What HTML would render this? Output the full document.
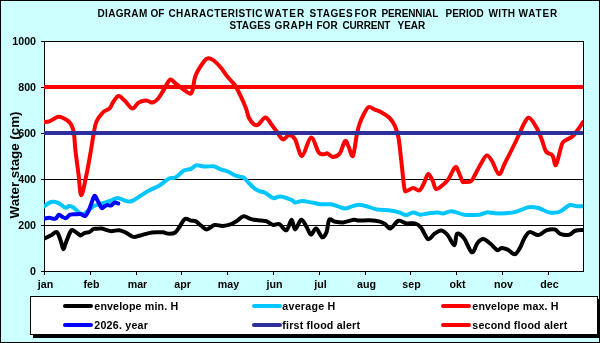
<!DOCTYPE html>
<html><head><meta charset="utf-8">
<style>
html,body{margin:0;padding:0;width:600px;height:343px;overflow:hidden;background:#CCFFFF;}
svg{display:block;will-change:transform;}
text{font-family:"Liberation Sans", sans-serif;font-weight:bold;fill:#000;}
</style></head><body>
<svg width="600" height="343" viewBox="0 0 600 343">
<rect x="0.5" y="0.5" width="599" height="342" fill="#CCFFFF" stroke="#000" stroke-width="1"/>
<text x="97.50" y="17.00" style="font-size:10.00px" textLength="49.77" lengthAdjust="spacing">DIAGRAM</text>
<text x="150.50" y="17.00" style="font-size:10.00px" textLength="13.89" lengthAdjust="spacing">OF</text>
<text x="168.50" y="17.00" style="font-size:10.00px" textLength="93.89" lengthAdjust="spacing">CHARACTERISTIC</text>
<text x="264.50" y="17.00" style="font-size:10.00px" textLength="39.66" lengthAdjust="spacing">WATER</text>
<text x="309.50" y="17.00" style="font-size:10.00px" textLength="43.12" lengthAdjust="spacing">STAGES</text>
<text x="354.50" y="17.00" style="font-size:10.00px" textLength="22.11" lengthAdjust="spacing">FOR</text>
<text x="381.50" y="17.00" style="font-size:10.00px" textLength="56.78" lengthAdjust="spacing">PERENNIAL</text>
<text x="445.50" y="17.00" style="font-size:10.00px" textLength="38.34" lengthAdjust="spacing">PERIOD</text>
<text x="488.50" y="17.00" style="font-size:10.00px" textLength="26.55" lengthAdjust="spacing">WITH</text>
<text x="518.50" y="17.00" style="font-size:10.00px" textLength="38.66" lengthAdjust="spacing">WATER</text>
<text x="229.50" y="29.00" style="font-size:10.00px" textLength="41.12" lengthAdjust="spacing">STAGES</text>
<text x="274.50" y="29.00" style="font-size:10.00px" textLength="38.11" lengthAdjust="spacing">GRAPH</text>
<text x="316.50" y="29.00" style="font-size:10.00px" textLength="21.11" lengthAdjust="spacing">FOR</text>
<text x="342.50" y="29.00" style="font-size:10.00px" textLength="47.89" lengthAdjust="spacing">CURRENT</text>
<text x="397.50" y="29.00" style="font-size:10.00px" textLength="27.78" lengthAdjust="spacing">YEAR</text>
<rect x="44" y="41" width="540" height="231" fill="#fff" stroke="none"/>
<rect x="44.5" y="41.5" width="539" height="230" fill="none" stroke="#000" stroke-width="1"/>
<line x1="44" y1="225.5" x2="583" y2="225.5" stroke="#000" stroke-width="1"/>
<line x1="44" y1="179.5" x2="583" y2="179.5" stroke="#000" stroke-width="1"/>
<clipPath id="c"><rect x="44" y="30" width="539" height="260"/></clipPath>
<g clip-path="url(#c)" fill="none" stroke-linejoin="round" stroke-linecap="round">
<path d="M44.00 238.80 C45.17 238.22 48.88 236.42 51.00 235.30 C53.12 234.18 55.15 231.23 56.75 232.10 C58.35 232.97 59.51 237.67 60.60 240.50 C61.69 243.33 62.42 248.77 63.30 249.10 C64.18 249.43 64.74 245.35 65.90 242.50 C67.06 239.65 69.15 234.08 70.25 232.00 C71.35 229.92 71.19 229.71 72.50 230.00 C73.81 230.29 76.77 232.83 78.10 233.75 C79.43 234.67 79.35 235.64 80.50 235.50 C81.65 235.36 83.50 233.48 85.00 232.90 C86.50 232.32 88.08 232.65 89.50 232.00 C90.92 231.35 92.33 229.53 93.50 229.00 C94.67 228.47 95.12 228.93 96.50 228.85 C97.88 228.77 99.42 228.12 101.75 228.50 C104.08 228.88 107.58 230.81 110.50 231.10 C113.42 231.39 116.62 229.95 119.25 230.25 C121.88 230.55 123.92 231.79 126.25 232.90 C128.58 234.01 130.92 236.47 133.25 236.90 C135.58 237.33 137.62 236.13 140.25 235.50 C142.88 234.87 146.38 233.62 149.00 233.10 C151.62 232.57 153.67 232.47 156.00 232.35 C158.33 232.22 160.82 232.12 163.00 232.35 C165.18 232.58 167.06 233.72 169.10 233.75 C171.14 233.78 173.50 233.67 175.25 232.50 C177.00 231.33 177.99 229.02 179.60 226.75 C181.21 224.48 183.00 219.93 184.90 218.90 C186.80 217.88 189.25 220.22 191.00 220.60 C192.75 220.97 193.65 220.27 195.40 221.15 C197.15 222.03 199.61 224.53 201.50 225.90 C203.39 227.28 204.57 229.55 206.75 229.40 C208.93 229.25 211.97 225.58 214.60 225.00 C217.22 224.42 219.72 226.05 222.50 225.90 C225.28 225.75 228.77 224.98 231.25 224.10 C233.73 223.22 235.36 221.91 237.40 220.60 C239.44 219.29 241.32 216.53 243.50 216.25 C245.68 215.97 248.75 218.32 250.50 218.90 C252.25 219.48 252.25 219.47 254.00 219.75 C255.75 220.03 258.96 220.37 261.00 220.60 C263.04 220.83 264.21 220.42 266.25 221.15 C268.29 221.88 271.06 224.51 273.25 225.00 C275.44 225.49 277.21 223.22 279.40 224.10 C281.59 224.97 284.37 230.97 286.40 230.25 C288.43 229.53 290.15 219.89 291.60 219.75 C293.05 219.61 293.49 229.40 295.10 229.40 C296.71 229.40 299.35 220.19 301.25 219.75 C303.15 219.31 304.89 224.28 306.50 226.75 C308.11 229.22 309.30 234.31 310.90 234.60 C312.50 234.89 314.21 228.06 316.10 228.50 C317.99 228.94 320.50 236.67 322.25 237.25 C324.00 237.83 325.43 234.92 326.60 232.00 C327.77 229.08 327.93 221.50 329.25 219.75 C330.57 218.00 332.17 221.06 334.50 221.50 C336.83 221.94 340.04 222.69 343.25 222.40 C346.46 222.11 351.12 220.05 353.75 219.75 C356.38 219.45 356.38 220.52 359.00 220.60 C361.62 220.68 366.00 220.08 369.50 220.25 C373.00 220.42 377.38 220.93 380.00 221.60 C382.62 222.27 383.50 223.10 385.25 224.25 C387.00 225.40 388.31 229.08 390.50 228.50 C392.69 227.92 395.77 221.60 398.40 220.75 C401.02 219.90 403.48 222.96 406.25 223.40 C409.02 223.84 412.52 222.68 415.00 223.40 C417.48 224.12 418.92 225.13 421.10 227.75 C423.28 230.37 425.91 238.07 428.10 239.10 C430.29 240.12 432.06 235.35 434.25 233.90 C436.44 232.45 439.06 230.26 441.25 230.40 C443.44 230.54 445.21 232.28 447.40 234.75 C449.59 237.22 452.80 245.39 454.40 245.25 C456.00 245.11 455.40 235.07 457.00 233.90 C458.60 232.73 461.52 235.19 464.00 238.25 C466.48 241.31 469.65 251.46 471.90 252.25 C474.15 253.04 475.61 245.19 477.50 243.00 C479.39 240.81 481.12 239.02 483.25 239.10 C485.38 239.18 487.92 241.66 490.25 243.50 C492.58 245.34 495.36 249.42 497.25 250.15 C499.14 250.88 499.85 247.99 501.60 247.90 C503.35 247.81 505.56 248.53 507.75 249.60 C509.94 250.67 512.71 254.63 514.75 254.35 C516.79 254.07 518.39 250.58 520.00 247.90 C521.61 245.22 522.80 240.88 524.40 238.25 C526.00 235.62 527.27 232.62 529.60 232.10 C531.93 231.57 535.62 235.38 538.40 235.10 C541.17 234.82 543.48 231.33 546.25 230.40 C549.02 229.47 552.67 228.92 555.00 229.50 C557.33 230.08 557.92 233.03 560.25 233.90 C562.58 234.78 566.50 235.28 569.00 234.75 C571.50 234.22 572.92 231.56 575.25 230.75 C577.58 229.94 581.71 230.04 583.00 229.90" stroke="#000" stroke-width="4"/>
<path d="M44.00 206.50 C45.17 205.75 48.67 202.62 51.00 202.00 C53.33 201.38 55.60 201.85 58.00 202.80 C60.40 203.75 63.60 207.17 65.40 207.70 C67.20 208.23 67.50 206.07 68.80 206.00 C70.10 205.93 71.45 206.17 73.20 207.30 C74.95 208.43 77.60 211.63 79.30 212.80 C81.00 213.97 81.70 214.89 83.40 214.30 C85.10 213.71 87.61 210.68 89.50 209.25 C91.39 207.82 92.42 206.79 94.75 205.75 C97.08 204.71 100.96 203.79 103.50 203.00 C106.04 202.21 107.67 201.83 110.00 201.00 C112.33 200.17 115.08 198.08 117.50 198.00 C119.92 197.92 122.17 199.96 124.50 200.50 C126.83 201.04 128.88 202.00 131.50 201.25 C134.12 200.50 137.33 197.79 140.25 196.00 C143.17 194.21 145.79 192.25 149.00 190.50 C152.21 188.75 156.15 187.50 159.50 185.50 C162.85 183.50 166.47 179.82 169.10 178.50 C171.72 177.18 172.77 178.92 175.25 177.60 C177.73 176.28 181.38 172.05 184.00 170.60 C186.62 169.15 188.96 169.77 191.00 168.90 C193.04 168.03 193.92 165.78 196.25 165.40 C198.58 165.02 202.08 166.46 205.00 166.60 C207.92 166.74 211.12 165.78 213.75 166.25 C216.38 166.72 218.42 168.53 220.75 169.40 C223.08 170.28 225.12 170.42 227.75 171.50 C230.38 172.58 233.88 174.88 236.50 175.90 C239.12 176.92 241.46 176.43 243.50 177.60 C245.54 178.77 247.00 181.17 248.75 182.90 C250.50 184.63 252.25 186.63 254.00 188.00 C255.75 189.37 257.35 190.28 259.25 191.10 C261.15 191.92 263.07 191.73 265.40 192.90 C267.73 194.07 270.77 197.52 273.25 198.10 C275.73 198.68 277.19 196.10 280.25 196.40 C283.31 196.70 289.12 198.88 291.60 199.90 C294.08 200.92 293.35 202.30 295.10 202.50 C296.85 202.70 299.33 201.10 302.10 201.10 C304.88 201.10 308.68 201.97 311.75 202.50 C314.82 203.03 317.29 203.96 320.50 204.25 C323.71 204.54 328.08 203.90 331.00 204.25 C333.92 204.60 335.67 205.62 338.00 206.35 C340.33 207.07 342.67 208.60 345.00 208.60 C347.33 208.60 349.67 206.98 352.00 206.35 C354.33 205.72 356.38 204.76 359.00 204.80 C361.62 204.84 364.83 205.83 367.75 206.60 C370.67 207.37 372.71 208.73 376.50 209.40 C380.29 210.07 386.71 210.10 390.50 210.60 C394.29 211.10 396.62 211.67 399.25 212.40 C401.88 213.13 403.92 215.00 406.25 215.00 C408.58 215.00 410.92 212.46 413.25 212.40 C415.58 212.34 417.62 214.51 420.25 214.65 C422.88 214.79 426.08 213.62 429.00 213.25 C431.92 212.88 435.42 212.34 437.75 212.40 C440.08 212.46 440.67 213.81 443.00 213.60 C445.33 213.39 448.25 210.97 451.75 211.15 C455.25 211.33 459.46 214.07 464.00 214.65 C468.54 215.23 475.18 215.03 479.00 214.65 C482.82 214.28 484.27 212.63 486.90 212.40 C489.52 212.17 491.69 213.11 494.75 213.25 C497.81 213.39 501.75 213.48 505.25 213.25 C508.75 213.02 511.81 212.88 515.75 211.85 C519.69 210.82 525.11 207.74 528.90 207.10 C532.69 206.46 535.15 207.12 538.50 208.00 C541.85 208.88 545.79 211.67 549.00 212.40 C552.21 213.13 555.42 212.84 557.75 212.40 C560.08 211.96 560.96 210.98 563.00 209.75 C565.04 208.52 567.67 205.58 570.00 205.00 C572.33 204.42 574.83 206.04 577.00 206.25 C579.17 206.46 582.00 206.25 583.00 206.25" stroke="#00C6FF" stroke-width="4"/>
<path d="M44.00 122.00 C44.83 121.92 47.50 121.92 49.00 121.50 C50.50 121.08 51.33 120.30 53.00 119.50 C54.67 118.70 56.58 116.53 59.00 116.70 C61.42 116.87 65.40 119.05 67.50 120.50 C69.60 121.95 70.52 123.15 71.60 125.40 C72.68 127.65 73.37 129.90 74.00 134.00 C74.63 138.10 74.63 143.17 75.40 150.00 C76.17 156.83 77.62 167.45 78.60 175.00 C79.58 182.55 80.00 195.30 81.30 195.30 C82.60 195.30 84.78 182.55 86.40 175.00 C88.02 167.45 89.80 156.83 91.00 150.00 C92.20 143.17 92.68 138.75 93.60 134.00 C94.52 129.25 94.85 125.18 96.50 121.50 C98.15 117.82 101.32 114.08 103.50 111.90 C105.68 109.72 108.00 110.01 109.60 108.40 C111.20 106.79 111.63 104.30 113.10 102.25 C114.57 100.20 116.50 96.39 118.40 96.10 C120.30 95.81 122.17 98.45 124.50 100.50 C126.83 102.55 130.07 108.05 132.40 108.40 C134.73 108.75 136.32 103.92 138.50 102.60 C140.68 101.28 143.75 100.70 145.50 100.50 C147.25 100.30 147.83 101.07 149.00 101.40 C150.17 101.73 151.04 102.90 152.50 102.50 C153.96 102.10 156.00 100.90 157.75 99.00 C159.50 97.10 160.96 94.31 163.00 91.10 C165.04 87.89 167.96 81.06 170.00 79.75 C172.04 78.44 173.21 81.79 175.25 83.25 C177.29 84.71 179.78 86.75 182.25 88.50 C184.72 90.25 188.35 93.60 190.10 93.75 C191.85 93.90 191.83 92.44 192.75 89.40 C193.67 86.36 193.67 80.23 195.60 75.50 C197.53 70.77 202.15 63.87 204.30 61.00 C206.45 58.13 206.93 58.38 208.50 58.30 C210.07 58.22 211.71 58.97 213.75 60.50 C215.79 62.03 218.42 64.73 220.75 67.50 C223.08 70.27 225.42 74.18 227.75 77.10 C230.08 80.02 232.71 82.08 234.75 85.00 C236.79 87.92 238.11 90.67 240.00 94.60 C241.89 98.53 244.64 104.78 246.10 108.60 C247.56 112.42 247.43 114.85 248.75 117.50 C250.07 120.15 252.39 123.33 254.00 124.50 C255.61 125.67 256.50 125.67 258.40 124.50 C260.30 123.33 263.22 117.50 265.40 117.50 C267.58 117.50 269.61 122.17 271.50 124.50 C273.39 126.83 274.85 129.02 276.75 131.50 C278.65 133.98 280.86 138.82 282.90 139.40 C284.94 139.98 286.97 135.00 289.00 135.00 C291.03 135.00 292.92 135.90 295.10 139.40 C297.28 142.90 299.47 156.30 302.10 156.00 C304.73 155.70 308.12 138.18 310.90 137.60 C313.67 137.02 316.57 149.72 318.75 152.50 C320.93 155.28 322.54 154.10 324.00 154.25 C325.46 154.40 326.04 152.96 327.50 153.40 C328.96 153.84 330.71 156.90 332.75 156.90 C334.79 156.90 337.71 156.03 339.75 153.40 C341.79 150.77 343.54 142.27 345.00 141.10 C346.46 139.93 347.18 143.92 348.50 146.40 C349.82 148.88 351.55 157.73 352.90 156.00 C354.25 154.27 355.55 141.17 356.60 136.00 C357.65 130.83 358.03 128.58 359.20 125.00 C360.37 121.42 362.00 117.50 363.60 114.50 C365.20 111.50 366.94 107.82 368.80 107.00 C370.66 106.18 372.73 108.78 374.75 109.60 C376.77 110.42 378.42 110.50 380.90 111.90 C383.38 113.30 387.27 115.67 389.60 118.00 C391.93 120.33 393.43 122.69 394.90 125.90 C396.37 129.11 397.53 133.23 398.40 137.25 C399.27 141.27 399.52 145.17 400.10 150.00 C400.68 154.83 401.17 159.75 401.90 166.25 C402.63 172.75 403.63 184.92 404.50 189.00 C405.37 193.08 405.64 190.90 407.10 190.75 C408.56 190.60 411.20 188.16 413.25 188.10 C415.30 188.04 417.65 191.12 419.40 190.40 C421.15 189.68 422.30 186.47 423.75 183.75 C425.20 181.03 426.64 174.68 428.10 174.10 C429.56 173.52 431.18 177.77 432.50 180.25 C433.82 182.73 434.40 188.12 436.00 189.00 C437.60 189.88 440.06 187.10 442.10 185.50 C444.14 183.90 446.06 182.47 448.25 179.40 C450.44 176.33 453.50 168.27 455.25 167.10 C457.00 165.93 457.58 170.07 458.75 172.40 C459.92 174.73 461.38 179.50 462.25 181.10 C463.12 182.70 462.54 182.00 464.00 182.00 C465.46 182.00 468.96 182.70 471.00 181.10 C473.04 179.50 474.50 175.46 476.25 172.40 C478.00 169.34 479.75 165.58 481.50 162.75 C483.25 159.92 485.00 155.69 486.75 155.40 C488.50 155.11 489.96 157.88 492.00 161.00 C494.04 164.12 496.83 173.77 499.00 174.10 C501.17 174.43 502.08 168.68 505.00 163.00 C507.92 157.32 513.25 146.71 516.50 140.00 C519.75 133.29 522.33 126.42 524.50 122.75 C526.67 119.08 527.46 117.12 529.50 118.00 C531.54 118.88 534.67 124.29 536.75 128.00 C538.83 131.71 540.46 136.33 542.00 140.25 C543.54 144.17 544.25 148.96 546.00 151.50 C547.75 154.04 550.83 153.25 552.50 155.50 C554.17 157.75 554.42 166.92 556.00 165.00 C557.58 163.08 560.28 148.17 562.00 144.00 C563.72 139.83 564.57 141.25 566.30 140.00 C568.03 138.75 570.50 138.17 572.40 136.50 C574.30 134.83 575.93 132.42 577.70 130.00 C579.47 127.58 582.12 123.33 583.00 122.00" stroke="#FF0000" stroke-width="4"/>
<path d="M44.00 218.70 C44.88 218.55 47.35 217.80 49.25 217.80 C51.15 217.80 53.79 219.23 55.40 218.70 C57.01 218.18 57.73 214.95 58.90 214.65 C60.07 214.35 61.23 216.32 62.40 216.90 C63.57 217.48 64.59 218.53 65.90 218.15 C67.21 217.78 68.50 215.29 70.25 214.65 C72.00 214.01 74.65 214.42 76.40 214.30 C78.15 214.18 79.30 213.66 80.75 213.95 C82.20 214.24 83.79 216.58 85.10 216.05 C86.41 215.53 87.57 212.84 88.60 210.80 C89.62 208.76 90.27 206.30 91.25 203.80 C92.23 201.30 93.47 196.38 94.50 195.80 C95.53 195.22 96.23 198.30 97.40 200.30 C98.57 202.30 100.40 206.72 101.50 207.80 C102.60 208.88 103.08 207.25 104.00 206.80 C104.92 206.35 105.83 205.32 107.00 205.10 C108.17 204.88 109.75 205.92 111.00 205.50 C112.25 205.08 113.28 202.93 114.50 202.60 C115.72 202.27 117.67 203.35 118.30 203.50" stroke="#0000FF" stroke-width="4"/>
<line x1="40" y1="133" x2="590" y2="133" stroke="#2E2E9C" stroke-width="4"/>
<line x1="40" y1="87" x2="590" y2="87" stroke="#FF0000" stroke-width="4"/>
</g>
<line x1="583.5" y1="41" x2="583.5" y2="272" stroke="#000" stroke-width="1"/>
<line x1="41" y1="271.5" x2="44" y2="271.5" stroke="#000" stroke-width="1"/>
<g text-anchor="end"><text x="36.00" y="275.00" style="font-size:10.67px">0</text></g>
<line x1="41" y1="225.5" x2="44" y2="225.5" stroke="#000" stroke-width="1"/>
<g text-anchor="end"><text x="36.00" y="229.00" style="font-size:10.67px">200</text></g>
<line x1="41" y1="179.5" x2="44" y2="179.5" stroke="#000" stroke-width="1"/>
<g text-anchor="end"><text x="36.00" y="183.00" style="font-size:10.67px">400</text></g>
<line x1="41" y1="133.5" x2="44" y2="133.5" stroke="#000" stroke-width="1"/>
<g text-anchor="end"><text x="36.00" y="137.00" style="font-size:10.67px">600</text></g>
<line x1="41" y1="87.5" x2="44" y2="87.5" stroke="#000" stroke-width="1"/>
<g text-anchor="end"><text x="36.00" y="91.00" style="font-size:10.67px">800</text></g>
<line x1="41" y1="41.5" x2="44" y2="41.5" stroke="#000" stroke-width="1"/>
<g text-anchor="end"><text x="36.00" y="45.00" style="font-size:10.67px">1000</text></g>
<line x1="44.5" y1="271" x2="44.5" y2="275" stroke="#000" stroke-width="1"/>
<g text-anchor="middle"><text x="45.50" y="288.00" style="font-size:10.67px">jan</text></g>
<line x1="90.5" y1="271" x2="90.5" y2="275" stroke="#000" stroke-width="1"/>
<g text-anchor="middle"><text x="91.50" y="288.00" style="font-size:10.67px">feb</text></g>
<line x1="136.5" y1="271" x2="136.5" y2="275" stroke="#000" stroke-width="1"/>
<g text-anchor="middle"><text x="137.50" y="288.00" style="font-size:10.67px">mar</text></g>
<line x1="181.5" y1="271" x2="181.5" y2="275" stroke="#000" stroke-width="1"/>
<g text-anchor="middle"><text x="182.50" y="288.00" style="font-size:10.67px">apr</text></g>
<line x1="227.5" y1="271" x2="227.5" y2="275" stroke="#000" stroke-width="1"/>
<g text-anchor="middle"><text x="228.50" y="288.00" style="font-size:10.67px">may</text></g>
<line x1="273.5" y1="271" x2="273.5" y2="275" stroke="#000" stroke-width="1"/>
<g text-anchor="middle"><text x="274.50" y="288.00" style="font-size:10.67px">jun</text></g>
<line x1="319.5" y1="271" x2="319.5" y2="275" stroke="#000" stroke-width="1"/>
<g text-anchor="middle"><text x="320.50" y="288.00" style="font-size:10.67px">jul</text></g>
<line x1="365.5" y1="271" x2="365.5" y2="275" stroke="#000" stroke-width="1"/>
<g text-anchor="middle"><text x="366.50" y="288.00" style="font-size:10.67px">aug</text></g>
<line x1="410.5" y1="271" x2="410.5" y2="275" stroke="#000" stroke-width="1"/>
<g text-anchor="middle"><text x="411.50" y="288.00" style="font-size:10.67px">sep</text></g>
<line x1="456.5" y1="271" x2="456.5" y2="275" stroke="#000" stroke-width="1"/>
<g text-anchor="middle"><text x="457.50" y="288.00" style="font-size:10.67px">okt</text></g>
<line x1="502.5" y1="271" x2="502.5" y2="275" stroke="#000" stroke-width="1"/>
<g text-anchor="middle"><text x="503.50" y="288.00" style="font-size:10.67px">nov</text></g>
<line x1="548.5" y1="271" x2="548.5" y2="275" stroke="#000" stroke-width="1"/>
<g text-anchor="middle"><text x="549.50" y="288.00" style="font-size:10.67px">dec</text></g>
<text transform="translate(19.30,165.00) rotate(-90)" text-anchor="middle" style="font-size:13.33px">Water stage (cm)</text>
<rect x="33" y="299" width="567" height="39" fill="#000"/>
<rect x="30.5" y="296.5" width="567" height="38" fill="#fff" stroke="#000" stroke-width="1"/>
<line x1="65" y1="306" x2="91" y2="306" stroke="#000000" stroke-width="4" stroke-linecap="round"/>
<text x="94.30" y="310.00" style="font-size:10.67px" textLength="83.82" lengthAdjust="spacing">envelope min. H</text>
<line x1="254" y1="306" x2="280" y2="306" stroke="#00C6FF" stroke-width="4" stroke-linecap="round"/>
<text x="282.30" y="310.00" style="font-size:10.67px" textLength="53.01" lengthAdjust="spacing">average H</text>
<line x1="443" y1="306" x2="469" y2="306" stroke="#FF0000" stroke-width="4" stroke-linecap="round"/>
<text x="472.30" y="310.00" style="font-size:10.67px" textLength="86.21" lengthAdjust="spacing">envelope max. H</text>
<line x1="65" y1="325" x2="91" y2="325" stroke="#0000FF" stroke-width="4" stroke-linecap="round"/>
<text x="94.30" y="329.00" style="font-size:10.67px" textLength="53.62" lengthAdjust="spacing">2026. year</text>
<line x1="254" y1="325" x2="280" y2="325" stroke="#2E2E9C" stroke-width="4" stroke-linecap="round"/>
<text x="282.30" y="329.00" style="font-size:10.67px" textLength="77.70" lengthAdjust="spacing">first flood alert</text>
<line x1="443" y1="325" x2="469" y2="325" stroke="#FF0000" stroke-width="4" stroke-linecap="round"/>
<text x="472.30" y="329.00" style="font-size:10.67px" textLength="94.89" lengthAdjust="spacing">second flood alert</text>
</svg>
</body></html>
